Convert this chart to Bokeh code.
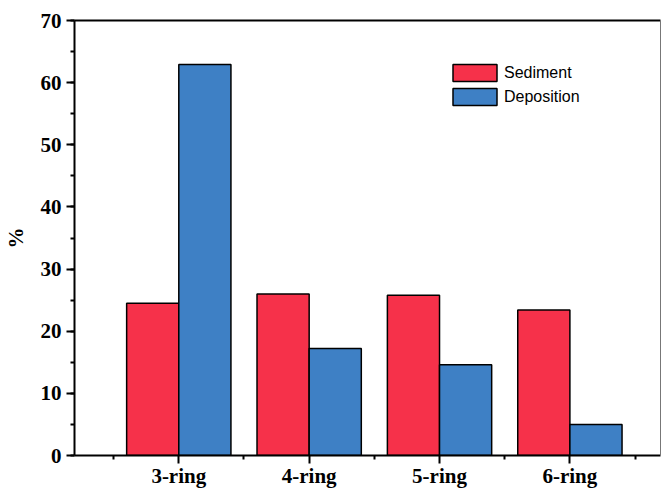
from bokeh.plotting import figure
from bokeh.models import Range1d, FixedTicker, LinearAxis, ColumnDataSource, Legend
from bokeh.transform import dodge
from bokeh.embed import file_html
from bokeh.resources import INLINE

categories = ["3-ring", "4-ring", "5-ring", "6-ring"]
positions = [1, 2, 3, 4]
sediment = [24.5, 26.0, 25.8, 23.4]
deposition = [62.9, 17.2, 14.6, 5.0]
y_ticks = list(range(0, 71, 10))
y_minor = list(range(0, 71, 5))
x_minor = [0.5, 1.5, 2.5, 3.5, 4.5]

src = ColumnDataSource(dict(x=positions, sed=sediment, dep=deposition))

p = figure(width=661, height=490, output_backend="svg", toolbar_location=None,
           x_range=Range1d(0.2, 4.695), y_range=Range1d(0, 70),
           min_border_left=73, min_border_right=1, min_border_top=20, min_border_bottom=0)
p.outline_line_color = None
p.grid.visible = False
p.background_fill_color = "white"
p.border_fill_color = "white"

r1 = p.vbar(x=dodge("x", -0.2, range=p.x_range), top="sed", width=0.4, source=src,
            fill_color="#F6314A", line_color="black", line_width=1.5)
r2 = p.vbar(x=dodge("x", 0.2, range=p.x_range), top="dep", width=0.4, source=src,
            fill_color="#3E80C5", line_color="black", line_width=1.5)

serif = "Liberation Serif"

xa = p.xaxis[0]
xa.ticker = FixedTicker(ticks=positions, minor_ticks=x_minor)
xa.major_label_overrides = {pos: cat for pos, cat in zip(positions, categories)}
ya = p.yaxis[0]
ya.ticker = FixedTicker(ticks=y_ticks, minor_ticks=y_minor)
ya.axis_label = "%"

for ax in (xa, ya):
    ax.axis_line_width = 2
    ax.axis_line_color = "black"
    ax.major_tick_line_width = 2
    ax.minor_tick_line_width = 2
    ax.major_tick_out = 8
    ax.major_tick_in = 0
    ax.minor_tick_out = 4
    ax.minor_tick_in = 0
    ax.major_label_text_font = serif
    ax.major_label_text_font_style = "bold"
    ax.major_label_text_font_size = "21px"
    ax.major_label_text_color = "black"
    ax.axis_label_text_font = serif
    ax.axis_label_text_font_style = "bold"
    ax.axis_label_text_font_size = "21px"
    ax.axis_label_text_color = "black"

xa.major_label_standoff = 0
ya.major_label_standoff = 5
ya.axis_label_standoff = 10

top_ax = LinearAxis(ticker=FixedTicker(ticks=[]), axis_line_width=2, axis_line_color="black",
                    major_tick_line_color=None, minor_tick_line_color=None,
                    major_label_text_font_size="0px")
right_ax = LinearAxis(ticker=FixedTicker(ticks=[]), axis_line_width=1, axis_line_color="#777777",
                      major_tick_line_color=None, minor_tick_line_color=None,
                      major_label_text_font_size="0px")
p.add_layout(top_ax, "above")
p.add_layout(right_ax, "right")

legend = Legend(items=[("Sediment", [r1]), ("Deposition", [r2])],
                location=(373, 348), glyph_width=55, glyph_height=21,
                label_height=21, spacing=3, padding=0, margin=0,
                label_standoff=2, border_line_color=None, background_fill_alpha=0,
                label_text_font="Liberation Sans", label_text_font_size="16px",
                label_text_color="black")
p.add_layout(legend, "center")

open("out.html", "w").write(file_html(p, INLINE))
